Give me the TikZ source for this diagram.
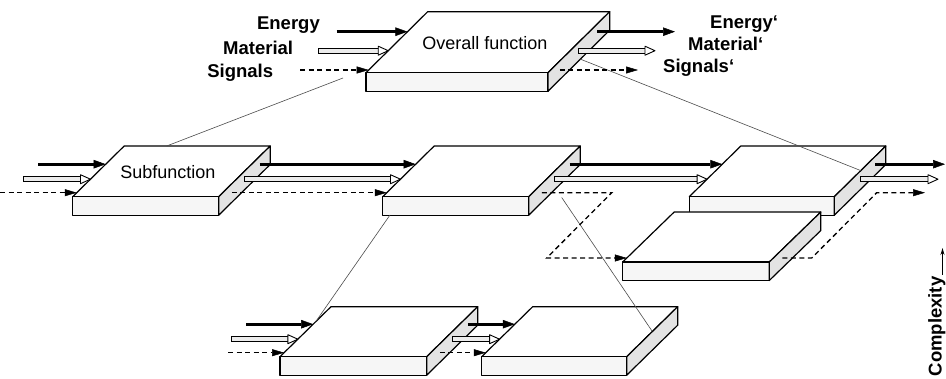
\documentclass[tikz,border=0pt]{standalone}
\usepackage{fontspec}
\setmainfont{Liberation Sans}
\usetikzlibrary{arrows.meta,calc}

\tikzset{
 face/.style={draw=black, line width=1.2pt, line join=round},
 topface/.style={face, fill=white},
 frontface/.style={face, fill=gray!7},
 sideface/.style={face, fill=gray!22},
 energy/.style={line width=3pt, -{Triangle[length=12pt,width=8.5pt,line width=0.5pt]}},
 signal/.style={line width=1.3pt, dash pattern=on 5pt off 3.5pt, -{Triangle[length=12pt,width=7pt,line width=0.5pt]}},
 matshaft/.style={draw=black, line width=0.9pt, fill=gray!15},
 mathead/.style={draw=black, line width=0.9pt, fill=white, line join=round},
 thinline/.style={draw=gray!60!black, line width=0.6pt},
 lab/.style={font=\fontsize{18.5}{20}\selectfont\bfseries, inner sep=0pt},
 boxtext/.style={font=\fontsize{18}{20}\selectfont, inner sep=0pt},
}

% #1 name, #2 x, #3 y (front-top-left), #4 width, #5 dx, #6 dy, #7 energy level, #8 material level, #9 signal level
\newcommand\slab[9]{%
  \filldraw[topface] (#2,#3) -- ++(#4,0) -- ++(#5,-#6) -- ++(-#4,0) -- cycle;
  \filldraw[frontface] (#2,#3) rectangle ++(#4,18.5);
  \filldraw[sideface] ({#2+#4},#3) -- ++(#5,-#6) -- ++(0,18.5) -- ++(-#5,#6) -- cycle;
  \coordinate (#1-ei) at ({#2+#7*#5/#6},{#3-#7});
  \coordinate (#1-mi) at ({#2+#8*#5/#6},{#3-#8});
  \coordinate (#1-si) at ({#2+#9*#5/#6},{#3-#9});
  \coordinate (#1-eo) at ({#2+#4+#7*#5/#6+8},{#3-#7});
  \coordinate (#1-mo) at ({#2+#4+#8*#5/#6+8},{#3-#8});
  \coordinate (#1-so) at ({#2+#4+#9*#5/#6+9},{#3-#9});
}

\newcommand\matarrow[2]{%
  \filldraw[matshaft] let \p1=(#1), \p2=(#2) in
    (\x1,\y1+2.3pt) -- (\x2-9pt,\y1+2.3pt) -- (\x2-9pt,\y1-2.3pt) -- (\x1,\y1-2.3pt) -- cycle;
  \filldraw[mathead] let \p1=(#1), \p2=(#2) in
    (\x2-10pt,\y1+4.5pt) -- (\x2,\y1) -- (\x2-10pt,\y1-4.5pt) -- cycle;
}

\begin{document}
\begin{tikzpicture}[x=1pt,y=-1pt]
\useasboundingbox (0,0) rectangle (946,379);
\fill[white] (0,0) rectangle (946,379);

% slabs
\slab{O}{366}{72.7}{182}{61.7}{61}{41}{22}{2.7}
\slab{A}{72.7}{196.7}{146}{51.5}{50.7}{32.5}{17.5}{4}
\slab{B}{382.7}{196.7}{146}{51.5}{50.7}{32.5}{17.5}{4}
\slab{C}{689.3}{196.7}{145}{51.5}{50.7}{32.5}{17.5}{4}
\slab{D}{622.7}{262}{146.6}{51.5}{50}{32.5}{17.5}{4}
\slab{E}{280}{356.7}{146.7}{51}{50}{32.5}{17.5}{4}
\slab{F}{481.7}{356.7}{145}{51}{50}{32.5}{17.5}{4}

% free ends
\coordinate (Oein) at (336.7,31.7);
\coordinate (Omin) at (318,50.7);
\coordinate (Osin) at (300,70);
\coordinate (Oeend) at (675,31.7);
\coordinate (Omend) at (655,50.7);
\coordinate (Osend) at (638,70);
\coordinate (Aein) at (38,164.2);
\coordinate (Amin) at (23,179.2);
\coordinate (Asin) at (0,192.7);
\coordinate (Ceend) at (945,164.2);
\coordinate (Cmend) at (938,179.2);
\coordinate (Ein) at (246,324.2);
\coordinate (Emin) at (231.7,339.2);
\coordinate (Esin) at (228,352.7);
\coordinate (q1) at (611.7,192.7);
\coordinate (q2) at (546.7,258);
\coordinate (q3) at (811.7,258);
\coordinate (q4) at (876.7,192.7);
\coordinate (q5) at (925,192.7);

% zoom lines
\coordinate (z1a) at (343,78);   \coordinate (z1b) at (166.7,146);
\coordinate (z2a) at (580,59);   \coordinate (z2b) at (861,170.7);
\coordinate (z3a) at (390,215);  \coordinate (z3b) at (315.7,321.7);
\coordinate (z4a) at (561.7,197.5); \coordinate (z4b) at (652,331);
\draw[thinline] (z1a) -- (z1b);
\draw[thinline] (z2a) -- (z2b);
\draw[thinline] (z3a) -- (z3b);
\draw[thinline] (z4a) -- (z4b);

% overall function flows
\draw[energy] (Oein) -- (O-ei);
\matarrow{Omin}{O-mi}
\draw[signal] (Osin) -- (O-si);
\draw[energy] (O-eo) -- (Oeend);
\matarrow{O-mo}{Omend}
\draw[signal] (O-so) -- (Osend);

% first level
\draw[energy] (Aein) -- (A-ei);
\matarrow{Amin}{A-mi}
\draw[signal] (Asin) -- (A-si);
\draw[energy] (A-eo) -- (B-ei);
\matarrow{A-mo}{B-mi}
\draw[signal] (A-so) -- (B-si);
\draw[energy] (B-eo) -- (C-ei);
\matarrow{B-mo}{C-mi}
\draw[signal] (B-so) -- (q1) -- (q2) -- (D-si);
\draw[energy] (C-eo) -- (Ceend);
\matarrow{C-mo}{Cmend}
\draw[signal] (D-so) -- (q3) -- (q4) -- (q5);

% second level
\draw[energy] (Ein) -- (E-ei);
\matarrow{Emin}{E-mi}
\draw[signal] (Esin) -- (E-si);
\draw[energy] (E-eo) -- (F-ei);
\matarrow{E-mo}{F-mi}
\draw[signal] (E-so) -- (F-si);

% texts
\node[boxtext, anchor=base] (tO) at (485,50) {Overall function};
\node[boxtext, anchor=base] (tA) at (167.8,178.3) {Subfunction};
\node[lab, anchor=base east] (lE) at (320,29.3) {Energy};
\node[lab, anchor=base east] (lM) at (293.3,54.3) {Material};
\node[lab, anchor=base east] (lS) at (273.3,77.3) {Signals};
\node[lab, anchor=base west] (rE) at (710,28.5) {Energy‘};
\node[lab, anchor=base west] (rM) at (688,50.5) {Material‘};
\node[lab, anchor=base west] (rS) at (663,73) {Signals‘};

% complexity
\node[lab, rotate=90, anchor=base west] (cx) at (941.5,376.5) {Complexity};
\coordinate (cxtop) at (942.5,248);
\draw[line width=0.9pt, -{Stealth[length=7pt,width=4pt]}] ([yshift=1.5pt]cxtop |- cx.east) -- (cxtop);
\end{tikzpicture}
\end{document}
